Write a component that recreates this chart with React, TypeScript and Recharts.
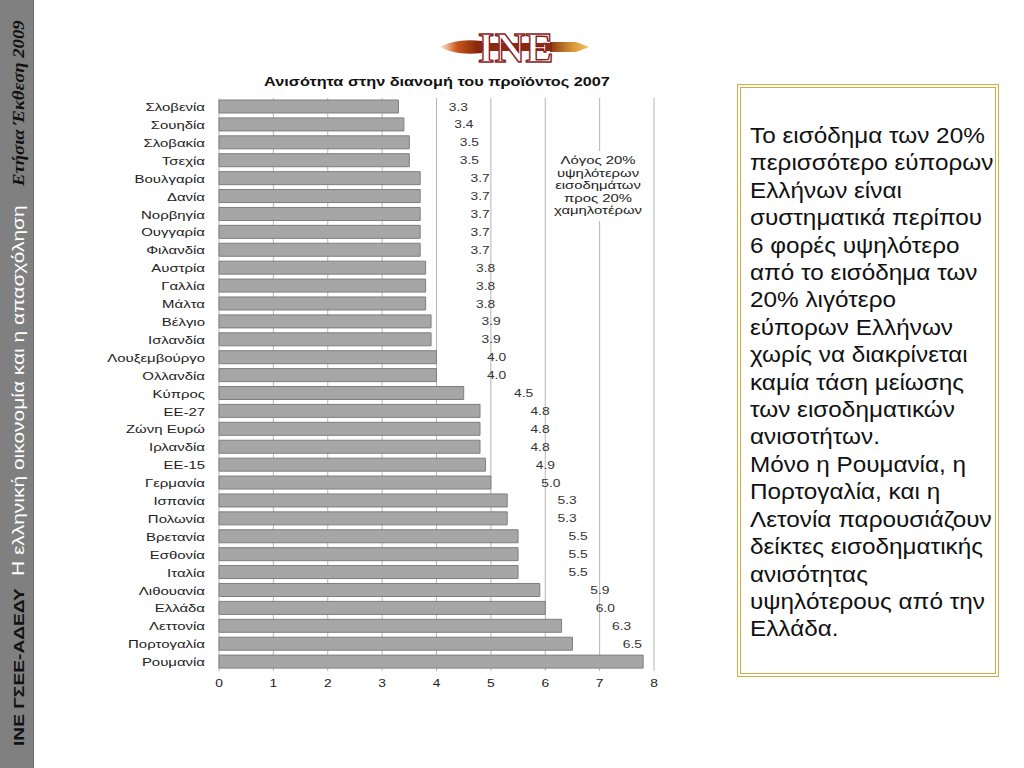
import React from 'react';
import { BarChart, Bar, XAxis, YAxis, CartesianGrid, LabelList } from 'recharts';

const categories = ['Σλοβενία','Σουηδία','Σλοβακία','Τσεχία','Βουλγαρία','Δανία','Νορβηγία','Ουγγαρία','Φιλανδία','Αυστρία','Γαλλία','Μάλτα','Βέλγιο','Ισλανδία','Λουξεμβούργο','Ολλανδία','Κύπρος','ΕΕ-27','Ζώνη Ευρώ','Ιρλανδία','ΕΕ-15','Γερμανία','Ισπανία','Πολωνία','Βρετανία','Εσθονία','Ιταλία','Λιθουανία','Ελλάδα','Λεττονία','Πορτογαλία','Ρουμανία'];
const values = [3.3,3.4,3.5,3.5,3.7,3.7,3.7,3.7,3.7,3.8,3.8,3.8,3.9,3.9,4.0,4.0,4.5,4.8,4.8,4.8,4.9,5.0,5.3,5.3,5.5,5.5,5.5,5.9,6.0,6.3,6.5,7.8];
const valueLabels = ['3.3','3.4','3.5','3.5','3.7','3.7','3.7','3.7','3.7','3.8','3.8','3.8','3.9','3.9','4.0','4.0','4.5','4.8','4.8','4.8','4.9','5.0','5.3','5.3','5.5','5.5','5.5','5.9','6.0','6.3','6.5',''];
const xTicks = [0,1,2,3,4,5,6,7,8];

const title = 'Ανισότητα στην διανομή του προϊόντος 2007';
const noteLines = ['Λόγος 20%','υψηλότερων','εισοδημάτων','προς 20%','χαμηλοτέρων'];
const sideTexts = ['ΙΝΕ ΓΣΕΕ-ΑΔΕΔΥ','Η ελληνική οικονομία  και η απασχόληση','Ετήσια Έκθεση 2009'];
const boxLines = [
  'Το εισόδημα των 20%','περισσότερο εύπορων','Ελλήνων είναι','συστηματικά περίπου','6 φορές υψηλότερο','από το εισόδημα των','20% λιγότερο','εύπορων Ελλήνων','χωρίς να διακρίνεται','καμία τάση μείωσης','των εισοδηματικών','ανισοτήτων.','Μόνο η Ρουμανία, η','Πορτογαλία, και η','Λετονία παρουσιάζουν','δείκτες εισοδηματικής','ανισότητας','υψηλότερους από την','Ελλάδα.'
];

const data = categories.map((name, i) => ({ name, value: values[i], label: valueLabels[i] }));
const FONT = '"Liberation Sans", Arial, Helvetica, sans-serif';
const SERIF = '"Liberation Serif", "DejaVu Serif", serif';

const ValueLabel = (props: any) => {
  const { x, y, width, height, index } = props;
  const txt = valueLabels[index];
  if (!txt) return null;
  const cx = Number(x) + Number(width) + 60;
  const cy = Number(y) + Number(height) / 2;
  return (
    <text transform={`translate(${cx},${cy}) scale(1.2,1)`} dy="0.35em" textAnchor="middle" fontSize={11.5} fill="#333" fontFamily={FONT}>
      {txt}
    </text>
  );
};

const YTick = (props: any) => {
  const { x, y, payload } = props;
  return (
    <text transform={`translate(${x},${y}) scale(1.3,1)`} dy="0.36em" textAnchor="end" fontSize={11.5} fill="#222" fontFamily={FONT}>
      {payload.value}
    </text>
  );
};

const XTick = (props: any) => {
  const { x, y, payload } = props;
  return (
    <text transform={`translate(${x},${y}) scale(1.2,1)`} dy="0.71em" textAnchor="middle" fontSize={11.5} fill="#222" fontFamily={FONT}>
      {payload.value}
    </text>
  );
};

const Logo = () => (
  <svg width={170} height={50} style={{ position: 'absolute', left: 432, top: 20 }}>
    <defs>
      <linearGradient id="fl" x1="0" x2="1" y1="0" y2="0">
        <stop offset="0" stopColor="#e07a30" stopOpacity="0.2" />
        <stop offset="0.4" stopColor="#c9561c" />
        <stop offset="1" stopColor="#7a1e0a" />
      </linearGradient>
      <linearGradient id="tip" x1="0" x2="1" y1="0" y2="0">
        <stop offset="0" stopColor="#8a3a10" />
        <stop offset="0.6" stopColor="#d99a3a" />
        <stop offset="1" stopColor="#f0c060" />
      </linearGradient>
    </defs>
    <path d="M8 27 Q24 18 50 21 L50 33 Q24 36 8 27 Z" fill="url(#fl)" />
    <path d="M118 22 L144 22 L157 27 L144 32 L118 32 Z" fill="url(#tip)" />
    <rect x={46} y={23} width={74} height={8} fill="#8a2a10" />
    <text x={84} y={42} textAnchor="middle" fontFamily={SERIF} fontWeight="bold" fontSize={42} fill="#ffffff" stroke="#8b1a1a" strokeWidth={1.4} letterSpacing={0.5}>INE</text>
  </svg>
);

const Sidebar = () => (
  <svg width={34} height={768} style={{ position: 'absolute', left: 0, top: 0 }}>
    <rect x={0} y={0} width={34} height={768} fill="#808080" />
    <rect x={33} y={0} width={1} height={768} fill="#6a6a6a" />
    <text transform="translate(24,746) rotate(-90) scale(1.24,1)" fontFamily={FONT} fontWeight="bold" fontSize={15.5} fill="#111">{sideTexts[0]}</text>
    <text transform="translate(24,576) rotate(-90) scale(1.31,1)" fontFamily={FONT} fontSize={16} fill="#ffffff">{sideTexts[1]}</text>
    <text transform="translate(24,186) rotate(-90) scale(1.17,1)" fontFamily={SERIF} fontWeight="bold" fontStyle="italic" fontSize={16} fill="#111">{sideTexts[2]}</text>
  </svg>
);

export default function App() {
  return (
    <div style={{ position: 'fixed', left: 0, top: 0, width: 1024, height: 768, background: '#fff', overflow: 'hidden', fontFamily: FONT }}>
      <Sidebar />
      <Logo />
      <div style={{ position: 'absolute', left: 237, top: 73, width: 400, textAlign: 'center', fontSize: 12.5, fontWeight: 'bold', color: '#111', lineHeight: '18px', transform: 'scaleX(1.3)', transformOrigin: '200px 0' }}>{title}</div>
      <div style={{ position: 'absolute', left: 100, top: 90 }}>
        <BarChart width={600} height={610} data={data} layout="vertical" margin={{ top: 8, right: 46, bottom: 9, left: 14 }}>
          <CartesianGrid horizontal={false} vertical={true} stroke="#b4b4b4" strokeWidth={1} />
          <XAxis type="number" domain={[0, 8]} ticks={xTicks} axisLine={false} tickLine={false} tickSize={0} tickMargin={8} height={20} tick={<XTick />} />
          <YAxis type="category" dataKey="name" width={105} axisLine={false} tickLine={false} tickSize={0} tickMargin={14} interval={0} tick={<YTick />} />
          <Bar dataKey="value" fill="#a6a6a6" stroke="#7e7e7e" strokeWidth={1} barSize={13} isAnimationActive={false}>
            <LabelList dataKey="label" content={ValueLabel} />
          </Bar>
        </BarChart>
      </div>
      <div style={{ position: 'absolute', left: 546, top: 151, width: 104, height: 70, background: '#fff' }} />
      <div style={{ position: 'absolute', left: 548, top: 154, width: 100, textAlign: 'center', fontSize: 11, lineHeight: '12.6px', color: '#222', transform: 'scaleX(1.35)', transformOrigin: '50px 0', whiteSpace: 'nowrap' }}>
        {noteLines.map((l, i) => <div key={i}>{l}</div>)}
      </div>
      <div style={{ position: 'absolute', left: 737, top: 84, width: 262, height: 593, border: '4px double #d3aa3c', boxSizing: 'border-box', background: '#fff' }}>
        <div style={{ position: 'absolute', left: 9, top: 35, fontSize: 21.5, lineHeight: '27.4px', color: '#111', whiteSpace: 'nowrap', transform: 'scaleX(1.13)', transformOrigin: '0 0' }}>
          {boxLines.map((l, i) => <div key={i}>{l}</div>)}
        </div>
      </div>
    </div>
  );
}
